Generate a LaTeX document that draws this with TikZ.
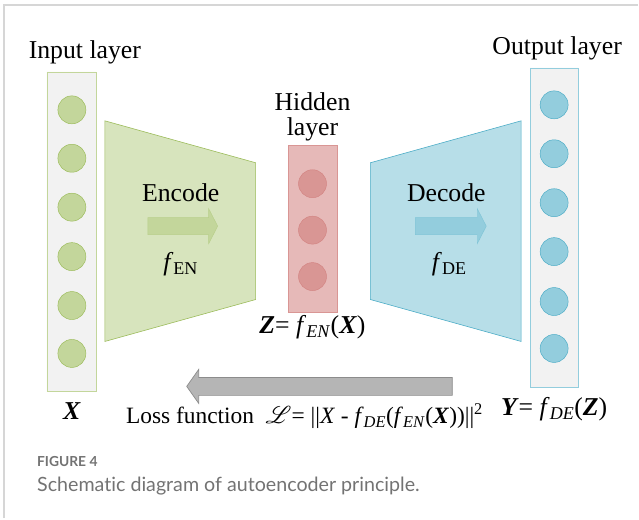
\documentclass[tikz,border=0pt]{standalone}
\usepackage{fontspec}
\setmainfont{Liberation Serif}
\newfontfamily\capfont[Ligatures=NoCommon]{Lato}
\usepackage{mathrsfs}
\usetikzlibrary{shapes.misc}

\definecolor{greenfill}{HTML}{D7E4BD}
\definecolor{greendot}{HTML}{C3D69B}
\definecolor{greenline}{HTML}{9BBB59}
\definecolor{redfill}{HTML}{E6B9B8}
\definecolor{reddot}{HTML}{D99694}
\definecolor{redline}{HTML}{C0504D}
\definecolor{bluefill}{HTML}{B7DEE8}
\definecolor{bluedot}{HTML}{93CDDD}
\definecolor{blueline}{HTML}{4BACC6}
\definecolor{colfill}{HTML}{F2F2F2}
\definecolor{lossfill}{HTML}{B5B5B5}
\definecolor{lossline}{HTML}{8C8C8C}
\definecolor{captext}{HTML}{737373}
\definecolor{framecol}{HTML}{D6D6D6}

\begin{document}
\begin{tikzpicture}[
    x=0.03cm, y=-0.03cm,
    every node/.style={inner sep=0pt, font=\fontsize{22}{21}\selectfont},
    layercol/.style={chamfered rectangle, chamfered rectangle xsep=4pt, draw, line width=0.5pt},
    indot/.style={circle, draw=greenline, fill=greendot, line width=0.4pt, minimum size=0.84cm},
    hiddot/.style={circle, draw=redline!70, fill=reddot, line width=0.4pt, minimum size=0.84cm},
    outdot/.style={circle, draw=blueline, fill=bluedot, line width=0.4pt, minimum size=0.84cm},
    encshape/.style={draw=greenline, fill=greenfill, line width=0.5pt},
    decshape/.style={draw=blueline, fill=bluefill, line width=0.5pt},
    encarrow/.style={draw=greenline!70, fill=greendot, line width=0.4pt},
    decarrow/.style={draw=blueline!70, fill=bluedot, line width=0.4pt},
    lossarrow/.style={draw=lossline, fill=lossfill, line width=0.6pt},
    caption/.style={anchor=west, text=captext}
]
% frame
\draw[framecol, line width=0.06cm] (4,519) -- (4,5) -- (639,5);
\useasboundingbox (0,0) rectangle (639,519);

% columns
\node[layercol, draw=greendot, fill=colfill, minimum width=1.47cm, minimum height=9.6cm] (incol) at (71.5,232) {};
\node[layercol, draw=reddot, fill=redfill, minimum width=1.47cm, minimum height=5.01cm] (hidcol) at (313.5,229.5) {};
\node[layercol, draw=bluedot, fill=colfill, minimum width=1.44cm, minimum height=9.6cm] (outcol) at (555,228) {};

% encoder and decoder
\draw[encshape] (105,121) -- (256,163) -- (256,300) -- (105,342) -- cycle;
\draw[decshape] (371,163) -- (522,121) -- (522,342) -- (371,300) -- cycle;
\draw[encarrow] (148,218) -- (209,218) -- (209,209) -- (218,226.5) -- (209,244) -- (209,235) -- (148,235) -- cycle;
\draw[decarrow] (416,218) -- (478,218) -- (478,209) -- (487,226.5) -- (478,244) -- (478,235) -- (416,235) -- cycle;

% input dots
\node[indot] (in1) at (72,110) {};
\node[indot] (in2) at (72,158.5) {};
\node[indot] (in3) at (72,207.5) {};
\node[indot] (in4) at (72,257) {};
\node[indot] (in5) at (72,306) {};
\node[indot] (in6) at (72,354) {};

% hidden dots
\node[hiddot] (hid1) at (313,184) {};
\node[hiddot] (hid2) at (313,230.5) {};
\node[hiddot] (hid3) at (313,277) {};

% output dots
\node[outdot] (out1) at (555,105) {};
\node[outdot] (out2) at (555,154) {};
\node[outdot] (out3) at (555,203) {};
\node[outdot] (out4) at (555,252) {};
\node[outdot] (out5) at (555,302) {};
\node[outdot] (out6) at (555,349) {};

% loss
\draw[lossarrow] (453,378) -- (199,378) -- (199,370) -- (187,387) -- (199,404) -- (199,396) -- (453,396) -- cycle;

% labels
\node (inlabel) at (85,52) {Input layer};
\node[align=center] (hidlabel) at (313,117) {Hidden\\layer};
\node (outlabel) at (558,48) {Output layer};
\node (enclabel) at (181,193) {Encode};
\node (fenlabel) at (181,265) {\textit{f}\textsubscript{EN}};
\node (declabel) at (447,193) {Decode};
\node (fdelabel) at (450,265) {\textit{f}\textsubscript{DE}};
\node (zlabel) at (313,328) {\textbf{\textit{Z}}= \textit{f}\textsubscript{\textit{EN}}(\textbf{\textit{X}})};
\node (xlabel) at (72,412) {\textbf{\textit{X}}};
\node (ylabel) at (555,410) {\textbf{\textit{Y}}= \textit{f}\textsubscript{\textit{DE}}(\textbf{\textit{Z}})};
\node[font=\fontsize{20}{22}\selectfont] (losslabel) at (305,417) {Loss function~ $\mathscr{L}$= \textbar\textbar\textit{X} - \textit{f}\textsubscript{\textit{DE}}(\textit{f}\textsubscript{\textit{EN}}(\textbf{\textit{X}}))\textbar\textbar\textsuperscript{2}};

% caption
\node[caption, font=\capfont\bfseries\fontsize{11.8}{13}\selectfont] (capnum) at (37,462) {FIGURE 4};
\node[caption, font=\capfont\fontsize{16.8}{19}\selectfont] (captext) at (37,487) {Schematic diagram of autoencoder principle.};
\end{tikzpicture}
\end{document}
